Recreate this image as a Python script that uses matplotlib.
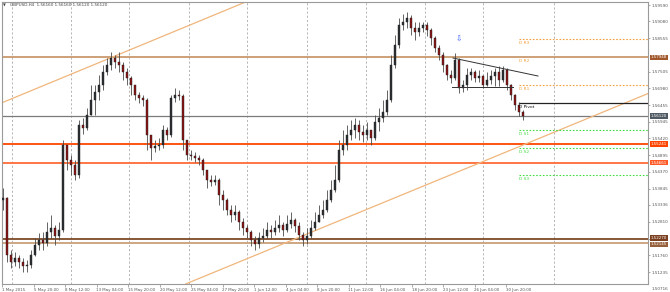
import matplotlib
matplotlib.use('Agg')
import matplotlib.pyplot as plt
import matplotlib.transforms as mtransforms

# ---------------- data ----------------
first_open = 1.5349
closes = [1.5355,1.5176,1.5155,1.5167,1.5155,1.5142,1.5145,1.5176,1.5208,1.5223,
          1.5214,1.5248,1.5261,1.5236,1.5255,1.5521,1.5474,1.5458,1.5427,1.5583,
          1.5574,1.5615,1.5662,1.5687,1.5709,1.5749,1.5771,1.5793,1.5781,1.5771,
          1.5749,1.5730,1.5709,1.5677,1.5668,1.5662,1.5552,1.5511,1.5518,1.5521,
          1.5568,1.5552,1.5668,1.5677,1.5674,1.5536,1.5489,1.5486,1.5480,1.5474,
          1.5443,1.5411,1.5405,1.5411,1.5364,1.5349,1.5317,1.5302,1.5311,1.5280,
          1.5261,1.5248,1.5223,1.5211,1.5230,1.5236,1.5255,1.5248,1.5261,1.5270,
          1.5255,1.5273,1.5286,1.5267,1.5239,1.5223,1.5236,1.5261,1.5280,1.5302,
          1.5317,1.5349,1.5380,1.5411,1.5505,1.5521,1.5552,1.5568,1.5583,1.5561,
          1.5552,1.5568,1.5543,1.5593,1.5605,1.5624,1.5662,1.5771,1.5834,1.5896,
          1.5906,1.5918,1.5887,1.5874,1.5887,1.5896,1.5881,1.5856,1.5824,1.5802,
          1.5771,1.5740,1.5730,1.5787,1.5699,1.5709,1.5740,1.5749,1.5730,1.5737,
          1.5709,1.5724,1.5737,1.5749,1.5724,1.5756,1.5709,1.5677,1.5646,1.5624,
          1.5612]
highs = [1.5386,1.5358,1.5192,1.5186,1.5176,1.5167,1.5161,1.5192,1.5230,1.5245,
         1.5248,1.5280,1.5302,1.5270,1.5280,1.5536,1.5521,1.5489,1.5474,1.5599,
         1.5605,1.5637,1.5709,1.5709,1.5740,1.5771,1.5793,1.5812,1.5802,1.5812,
         1.5781,1.5762,1.5737,1.5709,1.5687,1.5677,1.5668,1.5552,1.5536,1.5543,
         1.5583,1.5577,1.5677,1.5699,1.5693,1.5680,1.5536,1.5505,1.5499,1.5489,
         1.5480,1.5443,1.5427,1.5427,1.5417,1.5380,1.5355,1.5333,1.5333,1.5317,
         1.5292,1.5270,1.5255,1.5236,1.5248,1.5261,1.5280,1.5270,1.5286,1.5302,
         1.5280,1.5302,1.5311,1.5292,1.5280,1.5248,1.5261,1.5286,1.5311,1.5333,
         1.5349,1.5380,1.5411,1.5458,1.5536,1.5568,1.5583,1.5599,1.5605,1.5599,
         1.5583,1.5593,1.5565,1.5615,1.5637,1.5662,1.5693,1.5802,1.5865,1.5918,
         1.5931,1.5937,1.5928,1.5906,1.5906,1.5906,1.5906,1.5887,1.5862,1.5834,
         1.5812,1.5774,1.5756,1.5809,1.5793,1.5724,1.5762,1.5762,1.5756,1.5756,
         1.5740,1.5749,1.5756,1.5762,1.5768,1.5768,1.5762,1.5712,1.5680,1.5655,
         1.5630]
lows = [1.5317,1.5155,1.5136,1.5142,1.5136,1.5123,1.5123,1.5136,1.5173,1.5192,
        1.5192,1.5205,1.5230,1.5208,1.5223,1.5248,1.5443,1.5427,1.5411,1.5417,
        1.5555,1.5568,1.5630,1.5615,1.5662,1.5693,1.5740,1.5756,1.5762,1.5749,
        1.5724,1.5709,1.5677,1.5662,1.5652,1.5643,1.5505,1.5474,1.5499,1.5505,
        1.5511,1.5536,1.5546,1.5655,1.5662,1.5505,1.5474,1.5474,1.5468,1.5458,
        1.5427,1.5386,1.5392,1.5396,1.5333,1.5317,1.5302,1.5280,1.5286,1.5255,
        1.5239,1.5230,1.5205,1.5192,1.5198,1.5217,1.5230,1.5230,1.5239,1.5248,
        1.5236,1.5248,1.5261,1.5248,1.5223,1.5205,1.5211,1.5230,1.5255,1.5280,
        1.5292,1.5311,1.5342,1.5374,1.5405,1.5489,1.5505,1.5536,1.5543,1.5536,
        1.5530,1.5536,1.5521,1.5536,1.5565,1.5593,1.5615,1.5655,1.5762,1.5824,
        1.5881,1.5887,1.5865,1.5849,1.5862,1.5874,1.5862,1.5834,1.5812,1.5787,
        1.5749,1.5724,1.5715,1.5724,1.5684,1.5687,1.5693,1.5724,1.5718,1.5718,
        1.5699,1.5705,1.5712,1.5705,1.5705,1.5718,1.5693,1.5662,1.5630,1.5612,
        1.5599]

time_labels = ["1 May 2015", "5 May 20:00", "8 May 12:00", "13 May 04:00", "15 May 20:00",
               "20 May 12:00", "25 May 04:00", "27 May 20:00", "1 Jun 12:00", "4 Jun 04:00",
               "8 Jun 20:00", "11 Jun 12:00", "16 Jun 04:00", "18 Jun 20:00", "23 Jun 12:00",
               "26 Jun 04:00", "30 Jun 20:00"]
price_ticks = [1.59590, 1.59080, 1.58555, 1.57505, 1.56980, 1.56455, 1.55945, 1.55420,
               1.54895, 1.54370, 1.53845, 1.53336, 1.52810, 1.52285, 1.51760, 1.51235]
bottom_tick = 1.50716

# horizontal levels
level_prices = [1.57948, 1.55241, 1.54661, 1.52270, 1.52145]
level_colors = ['#c9986c', '#ff4500', '#ff6a35', '#7b4a28', '#c9a07c']
level_box_colors = ['#a0582a', '#ff4500', '#ff5a25', '#7b4020', '#96603a']
level_box_nudge = [0, 0, 0, 0.8, -0.8]   # points, to keep stacked boxes apart
bid_price = 1.56120

# daily pivots
pivot_names = ['D R3', 'D R2', 'D R1', 'D Pivot', 'D S1', 'D S2', 'D S3']
pivot_prices = [1.58527, 1.57948, 1.57088, 1.56525, 1.55680, 1.55117, 1.54257]
pivot_start = 129

# trendlines: ((bar, price), (bar, price))
channel_upper = ((0, 1.56546), (50, 1.59133))
channel_lower = ((46.25, 1.50894), (149.25, 1.56202))
down_trend = ((112.5, 1.57932), (133.75, 1.57369))
support_seg = ((112.25, 1.57034), (127.5, 1.57034))
arrow_point = (114, 1.58527)

grid_bars = [2.2, 16.9, 31.6, 46.4, 61.1, 75.9, 90.7, 105.4, 120.1, 137.8]

title = "GBPUSD,H4  1.56160 1.56160 1.56120 1.56120"

# ---------------- figure ----------------
W, H = 670, 292
fig = plt.figure(figsize=(W / 100, H / 100), dpi=100)
fig.patch.set_facecolor('white')
ax = fig.add_axes([2 / W, (H - 284) / H, 646 / W, 282 / H])
ax.set_xlim(-0.25, 161.25)
ax.set_ylim(1.50863, 1.59684)

for s in ax.spines.values():
    s.set_color('#9a9a9a')
    s.set_linewidth(0.8)

FSX = 2.85   # time labels
FSY = 3.0    # price labels
FSB = 2.85   # price boxes
FSP = 3.2    # pivot labels
TXT = '#555555'

# grid
for g in grid_bars:
    ax.axvline(g, color='#a8a8a8', lw=0.6, ls=(0, (2.5, 2.5)), zorder=0)

# horizontal levels
for p, c in zip(level_prices, level_colors):
    ax.axhline(p, color=c, lw=1.3, zorder=1)
ax.axhline(bid_price, color='#7a7a7a', lw=0.9, zorder=1)

# channel lines
ax.axline(channel_upper[0], channel_upper[1], color='#f0b67c', lw=0.9, zorder=1)
ax.axline(channel_lower[0], channel_lower[1], color='#f0b67c', lw=0.9, zorder=1)

# pivots
xmax = ax.get_xlim()[1]
for name, p in zip(pivot_names, pivot_prices):
    if name.startswith('D R'):
        col, ls, lw = '#f5a040', (0, (1.5, 1.5)), 0.8
    elif name.startswith('D S'):
        col, ls, lw = '#44dd44', (0, (1.5, 1.5)), 0.8
    else:
        col, ls, lw = '#222222', '-', 0.9
    if name != 'D R2':
        ax.plot([pivot_start, xmax], [p, p], color=col, ls=ls, lw=lw, zorder=2)
    tcol = '#111111' if name == 'D Pivot' else col
    ax.annotate(name, (pivot_start, p), xytext=(0, -1.2), textcoords='offset points',
                ha='left', va='top', fontsize=FSP, color=tcol, zorder=5)

# candles
n = len(closes)
opens = [first_open] + closes[:-1]
xs = list(range(n))
for i in xs:
    o, c, h, l = opens[i], closes[i], highs[i], lows[i]
    bull = c >= o
    col = '#2a2f33' if bull else '#8b1212'
    ax.vlines(i, min(l, o, c), max(h, o, c), color='#4a4a4a', lw=0.6, zorder=3)
    ax.bar(i, max(abs(c - o), 0.00004), bottom=min(o, c), width=0.62,
           color=col, edgecolor='#222222', linewidth=0.3, zorder=4)

# drawn trend objects
ax.plot([down_trend[0][0], down_trend[1][0]], [down_trend[0][1], down_trend[1][1]],
        color='#333333', lw=0.7, zorder=5)
ax.plot([support_seg[0][0], support_seg[1][0]], [support_seg[0][1], support_seg[1][1]],
        color='#333333', lw=0.7, zorder=5)
ax.text(arrow_point[0], arrow_point[1], '⇩', color='#3a5cff', fontsize=5.5,
        ha='center', va='center', family=['DejaVu Sans', 'Noto Sans'], zorder=6)

# x axis
xt = [-0.25 + 7.875 * k for k in range(len(time_labels))]
ax.set_xticks(xt)
ax.set_xticklabels(time_labels, ha='left', fontsize=FSX, color=TXT)
ax.tick_params(axis='x', length=2, width=0.5, color='#888888', pad=0.6)

# y axis (right)
ax.yaxis.tick_right()
ax.set_yticks(price_ticks)
ax.set_yticklabels([f"{v:.5f}" for v in price_ticks], fontsize=FSY, color=TXT)
ax.tick_params(axis='y', length=1.5, width=0.5, color='#888888', pad=1.0)
trans = mtransforms.blended_transform_factory(ax.transAxes, ax.transData)
ax.annotate(f"{bottom_tick:.5f}", (1.0, bottom_tick), xycoords=trans,
            xytext=(2.6, 0), textcoords='offset points', fontsize=FSY,
            color=TXT, va='center', ha='left', annotation_clip=False)

# coloured price boxes
box_prices = level_prices + [bid_price]
box_cols = level_box_colors + ['#4f5a63']
box_nudge = level_box_nudge + [0]
for p, bc, dy in zip(box_prices, box_cols, box_nudge):
    ax.annotate(f"{p:.5f}", (1.0, p), xycoords=trans, xytext=(2.2, dy),
                textcoords='offset points', fontsize=FSB, color='white',
                va='center', ha='left', annotation_clip=False, zorder=10,
                bbox=dict(boxstyle='square,pad=0.15', fc=bc, ec='none'))

# title
fig.text(3 / W, 1 - 5.5 / H, '▼', fontsize=2.6, color='#444444', va='center', ha='left')
fig.text(10 / W, 1 - 5.5 / H, title, fontsize=3.0, color='#444444', va='center', ha='left')

fig.savefig('out.png', dpi=100, facecolor='white')
